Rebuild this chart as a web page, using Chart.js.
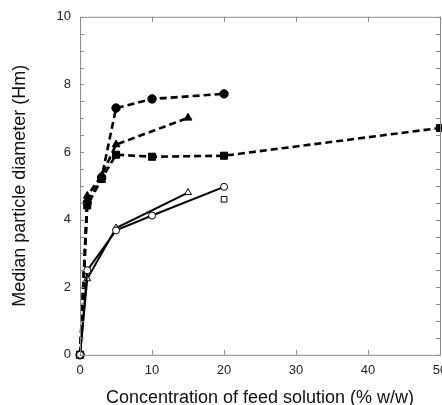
<!DOCTYPE html>
<html>
<head>
<meta charset="utf-8">
<script src="https://cdn.jsdelivr.net/npm/chart.js@4"></script>
<style>
  body { margin: 0; overflow: hidden; background: #fff; }
  #wrap { width: 472px; height: 405px; }
</style>
</head>
<body>
<div id="wrap"><canvas id="chart"></canvas></div>
<script>
// wartości (x = stężenie %, y = średnica)
const filledCircleX = [0, 1, 3, 5, 10, 20]
const filledCircleY = [0, 4.5, 5.25, 7.3, 7.57, 7.72]

const filledTriangleX = [0, 1, 3, 5, 15]
const filledTriangleY = [0, 4.7, 5.3, 6.22, 7.01]

const filledSquareX = [0, 1, 3, 5, 10, 20, 50]
const filledSquareY = [0, 4.42, 5.2, 5.92, 5.86, 5.89, 6.71]

const openCircleX = [0, 1, 5, 10, 20]
const openCircleY = [0, 2.5, 3.68, 4.12, 4.97]

const openTriangleX = [0, 1, 5, 15]
const openTriangleY = [0, 2.25, 3.75, 4.8]

const openSquareX = [20]
const openSquareY = [4.6]

const xTicks = [0, 10, 20, 30, 40, 50]
const yTicks = [0, 2, 4, 6, 8, 10]

function toPoints(xs, ys) {
    const pts = []
    for (let i = 0; i < xs.length; i++) {
        pts.push({ x: xs[i], y: ys[i] })
    }
    return pts
}

function series(xs, ys, style, filled, dashed, radius, showLine = true) {
    return {
        data: toPoints(xs, ys),
        showLine,
        borderColor: '#000',
        borderWidth: dashed ? 2.6 : 2,
        borderDash: dashed ? [7, 4] : [],
        pointStyle: style,
        pointRadius: radius,
        pointBackgroundColor: filled ? '#000' : '#fff',
        pointBorderColor: '#000',
        pointBorderWidth: 1,
        tension: 0,
        clip: false
    }
}

// ramka i ząbki skierowane do środka
const frame = {
    id: 'frame',
    afterDraw(chart) {
        const ctx = chart.ctx
        const a = chart.chartArea
        const xs = chart.scales.x
        const ys = chart.scales.y
        ctx.save()
        ctx.strokeStyle = '#8a8a8a'
        ctx.lineWidth = 1
        ctx.beginPath()
        ctx.moveTo(a.left + 0.5, a.bottom + 0.5)
        ctx.lineTo(a.left + 0.5, a.top + 0.5)
        ctx.lineTo(a.right + 0.5, a.top + 0.5)
        ctx.lineTo(a.right + 0.5, a.bottom + 0.5)
        ctx.lineTo(a.left + 0.5, a.bottom + 0.5)
        for (const t of xs.ticks) {
            const px = Math.round(xs.getPixelForValue(t.value)) + 0.5
            ctx.moveTo(px, a.bottom)
            ctx.lineTo(px, a.bottom - 5)
            ctx.moveTo(px, a.top)
            ctx.lineTo(px, a.top + 5)
        }
        for (const t of ys.ticks) {
            const py = Math.round(ys.getPixelForValue(t.value)) + 0.5
            ctx.moveTo(a.left, py)
            ctx.lineTo(a.left + 4, py)
            ctx.moveTo(a.right, py)
            ctx.lineTo(a.right - 4, py)
        }
        ctx.stroke()
        ctx.restore()
    }
}

const font = { family: 'Liberation Sans, Arial, sans-serif', size: 13 }
const titleFont = { family: font.family, size: 18 }

new Chart(document.getElementById('chart'), {
    type: 'scatter',
    data: {
        datasets: [
            series(openCircleX, openCircleY, 'circle', false, false, 3.5),
            series(openTriangleX, openTriangleY, 'triangle', false, false, 4),
            series(openSquareX, openSquareY, 'rect', false, false, 4, false),
            series(filledCircleX, filledCircleY, 'circle', true, true, 4.2),
            series(filledTriangleX, filledTriangleY, 'triangle', true, true, 4.5),
            series(filledSquareX, filledSquareY, 'rect', true, true, 5)
        ]
    },
    options: {
        responsive: true,
        maintainAspectRatio: false,
        animation: false,
        layout: { padding: { top: 16, right: 32, left: 9, bottom: 0 } },
        plugins: { legend: { display: false }, tooltip: { enabled: false } },
        scales: {
            x: {
                type: 'linear',
                min: 0,
                max: 50,
                afterBuildTicks: (s) => { s.ticks = xTicks.map(v => ({ value: v })) },
                grid: { display: false, drawTicks: false },
                border: { display: false },
                ticks: { color: '#222', font, padding: 8 },
                title: {
                    display: true,
                    text: 'Concentration of feed solution (% w/w)',
                    color: '#111',
                    font: titleFont,
                    padding: { top: 1, bottom: -4 }
                }
            },
            y: {
                min: 0,
                max: 10,
                ticks: {
                    stepSize: 0.5,
                    color: '#222',
                    font,
                    padding: 9,
                    autoSkip: false,
                    callback: (v) => yTicks.includes(v) ? v : ''
                },
                grid: { display: false, drawTicks: false },
                border: { display: false },
                title: {
                    display: true,
                    text: 'Median particle diameter (Hm)',
                    color: '#111',
                    font: titleFont,
                    padding: { top: 0, bottom: 17 }
                }
            }
        }
    },
    plugins: [frame]
})
</script>
</body>
</html>
